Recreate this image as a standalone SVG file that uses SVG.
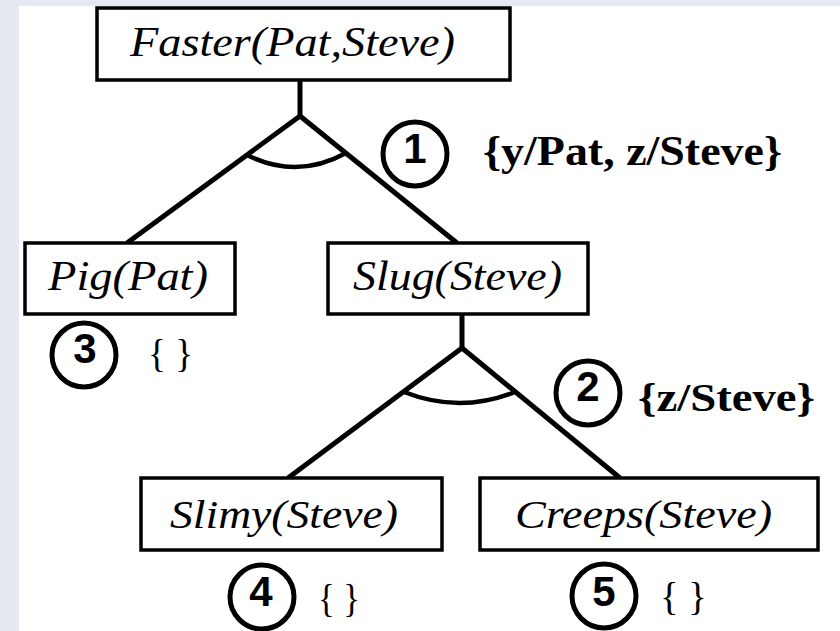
<svg xmlns="http://www.w3.org/2000/svg" width="840" height="631" viewBox="0 0 840 631">
  <style>
    .box { fill: #ffffff; stroke: #000000; stroke-width: 3.5; }
    .lbl { font-family: "Liberation Serif", "Times New Roman", serif; font-style: italic; fill: #000; }
    .sub { font-family: "Liberation Serif", "Times New Roman", serif; font-weight: bold; fill: #000; }
    .brace { font-family: "Liberation Serif", "Times New Roman", serif; fill: #000; font-size: 40px; }
    .num { font-family: "Liberation Sans", Arial, sans-serif; font-weight: bold; fill: #000; font-size: 42px; text-anchor: middle; }
    .ring { fill: none; stroke: #000; stroke-width: 5; }
    .edge { fill: none; stroke: #000; stroke-width: 5; stroke-linecap: butt; }
    .arc { fill: none; stroke: #000; stroke-width: 4.5; }
  </style>
  <rect x="0" y="0" width="840" height="631" fill="#e5eaf2"/>
  <rect x="19" y="6" width="821" height="625" fill="#ffffff"/>

  <g id="connectors">
    <line class="edge" x1="300" y1="80" x2="300" y2="116"/>
    <line class="edge" x1="300" y1="116" x2="127" y2="243"/>
    <line class="edge" x1="300" y1="116" x2="457" y2="243"/>
    <path class="arc" d="M247,155 Q297,180 346,153"/>
    <line class="edge" x1="462" y1="314" x2="462" y2="348"/>
    <line class="edge" x1="462" y1="348" x2="288" y2="478"/>
    <line class="edge" x1="462" y1="348" x2="620" y2="478"/>
    <path class="arc" d="M404,392 Q460,414 515,392"/>
  </g>

  <g id="node-faster">
    <rect class="box" x="97" y="8" width="413" height="72"/>
    <text class="lbl" x="130" y="56" font-size="43" textLength="325" lengthAdjust="spacingAndGlyphs">Faster(Pat,Steve)</text>
  </g>
  <g id="node-pig">
    <rect class="box" x="25" y="243" width="210" height="71"/>
    <text class="lbl" x="48" y="290" font-size="42" textLength="160" lengthAdjust="spacingAndGlyphs">Pig(Pat)</text>
  </g>
  <g id="node-slug">
    <rect class="box" x="328" y="243" width="260" height="71"/>
    <text class="lbl" x="353" y="290" font-size="42" textLength="209" lengthAdjust="spacingAndGlyphs">Slug(Steve)</text>
  </g>
  <g id="node-slimy">
    <rect class="box" x="141" y="478" width="301" height="72"/>
    <text class="lbl" x="170" y="528" font-size="40" textLength="228" lengthAdjust="spacingAndGlyphs">Slimy(Steve)</text>
  </g>
  <g id="node-creeps">
    <rect class="box" x="480" y="478" width="338" height="72"/>
    <text class="lbl" x="515" y="528" font-size="40" textLength="257" lengthAdjust="spacingAndGlyphs">Creeps(Steve)</text>
  </g>

  <g id="step-1">
    <circle class="ring" cx="415" cy="154" r="32"/>
    <text class="num" x="415" y="163">1</text>
    <text class="sub" x="483" y="165" font-size="43" textLength="299" lengthAdjust="spacingAndGlyphs">{y/Pat, z/Steve}</text>
  </g>
  <g id="step-2">
    <circle class="ring" cx="588" cy="393" r="32"/>
    <text class="num" x="588" y="401">2</text>
    <text class="sub" x="638" y="411" font-size="39" textLength="177" lengthAdjust="spacingAndGlyphs">{z/Steve}</text>
  </g>
  <g id="step-3">
    <circle class="ring" cx="84" cy="355" r="32"/>
    <text class="num" x="85" y="363">3</text>
    <text class="brace" x="148" y="367" textLength="45" lengthAdjust="spacingAndGlyphs">{ }</text>
  </g>
  <g id="step-4">
    <circle class="ring" cx="262" cy="597" r="32"/>
    <text class="num" x="261" y="606">4</text>
    <text class="brace" x="318" y="612" textLength="42" lengthAdjust="spacingAndGlyphs">{ }</text>
  </g>
  <g id="step-5">
    <circle class="ring" cx="604" cy="596" r="32"/>
    <text class="num" x="604" y="606">5</text>
    <text class="brace" x="660" y="610" textLength="47" lengthAdjust="spacingAndGlyphs">{ }</text>
  </g>
</svg>
